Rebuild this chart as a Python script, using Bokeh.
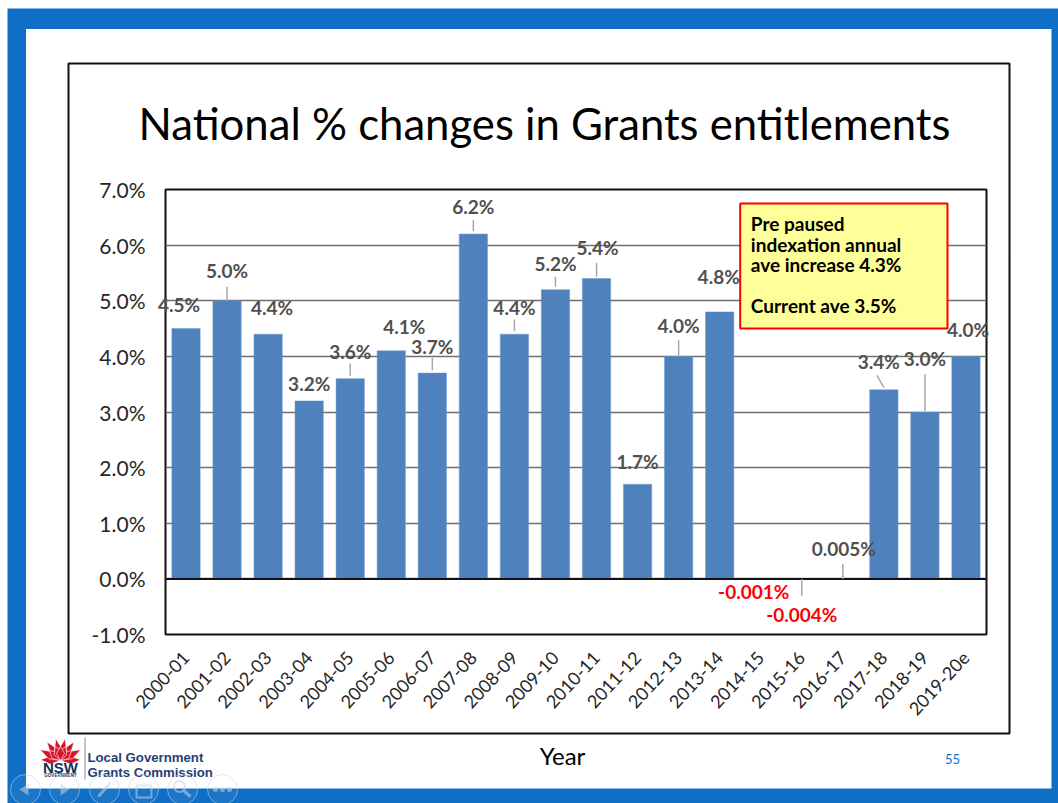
import numpy as np
from bokeh.core.properties import value
from bokeh.embed import file_html
from bokeh.models import ColumnDataSource, FactorRange, Range1d
from bokeh.plotting import figure
from bokeh.resources import INLINE

years = ["2000-01", "2001-02", "2002-03", "2003-04", "2004-05", "2005-06", "2006-07",
         "2007-08", "2008-09", "2009-10", "2010-11", "2011-12", "2012-13", "2013-14",
         "2014-15", "2015-16", "2016-17", "2017-18", "2018-19", "2019-20e"]
change_pct = [4.5, 5.0, 4.4, 3.2, 3.6, 4.1, 3.7, 6.2, 4.4, 5.2, 5.4, 1.7, 4.0, 4.8,
              -0.001, -0.004, 0.005, 3.4, 3.0, 4.0]
value_labels = ["4.5%", "5.0%", "4.4%", "3.2%", "3.6%", "4.1%", "3.7%", "6.2%", "4.4%", "5.2%",
                "5.4%", "1.7%", "4.0%", "4.8%", "-0.001%", "-0.004%", "0.005%", "3.4%", "3.0%", "4.0%"]
# shift of each value label from its bar top, in pixels
label_dx = [-7, 0, 4, 0, 0, 13, 0, 0, 0, 0, 1, 0, 0, -1, -7, 0, 1, -5, 0, 2]
label_dy = [-24, -30, -27, -17, -27, -24, -27, -28, -27, -26, -31, -23, -31, -35, 13, 35, -30, -28, -54, -27]

FONT = "Lato"
FRAME_L, FRAME_R, FRAME_T, FRAME_B = 165, 986, 189, 634
WIDTH, HEIGHT = 1058, 803
STACKED = {"position": "absolute", "top": "0px", "left": "0px"}
BLUE = "#0f6fc6"

# ---- Bottom layer: the slide around the chart, in page pixels ----
slide = figure(width=WIDTH, height=HEIGHT, output_backend="svg", toolbar_location=None,
               x_range=Range1d(0, WIDTH), y_range=Range1d(HEIGHT, 0),
               x_axis_type=None, y_axis_type=None, min_border=0,
               background_fill_color="white", border_fill_color="white",
               outline_line_color=None, styles=STACKED)
slide.grid.visible = False


def caption(fig, x, y, s, size, color="#000000", style="normal", align="center", font=FONT):
    fig.text(x=[x], y=[y], text=[s], text_font=value(font), text_font_size=f"{size}px",
             text_font_style=style, text_color=color, text_align=align, text_baseline="middle")


slide.quad(left=[7], right=[WIDTH], top=[8], bottom=[HEIGHT], fill_color=BLUE, line_color=None)
slide.quad(left=[25.5], right=[1051], top=[28.5], bottom=[788], fill_color="white", line_color=None)
slide.quad(left=[68], right=[1009], top=[63], bottom=[733], fill_color="white",
           line_color="#111111", line_width=2)
caption(slide, 544, 122, "National % changes in Grants entitlements", 43.7)
caption(slide, 562, 755, "Year", 24)
caption(slide, 952, 758, "55", 13, BLUE)

# Waratah emblem: a fan of pointed petals
petals = [(-88, 20), (88, 20), (-62, 23), (62, 23), (-36, 23), (36, 23), (-12, 22), (12, 22),
          (-48, 15), (48, 15), (-20, 15), (20, 15), (0, 14)]
for angle, length in petals:
    a = np.radians(angle)
    ux, uy = np.sin(a), -np.cos(a)
    vx, vy = -uy, ux
    slide.patch(x=[60, 60 + ux * length * 0.5 + vx * 4, 60 + ux * length, 60 + ux * length * 0.5 - vx * 4],
                y=[760, 760 + uy * length * 0.5 + vy * 4, 760 + uy * length, 760 + uy * length * 0.5 - vy * 4],
                fill_color="#d7152a", line_color="white", line_width=0.6)
caption(slide, 60, 767, "NSW", 15, "#13315c", "bold", font="Liberation Sans")
caption(slide, 60, 775, "GOVERNMENT", 4.5, "#13315c", "bold", font="Liberation Sans")
slide.quad(left=[84], right=[85], top=[737], bottom=[779], fill_color="#7a8ca8", line_color=None)
caption(slide, 87, 757, "Local Government", 13.2, "#1f3f77", "bold", "left", "Liberation Sans")
caption(slide, 87, 772, "Grants Commission", 13.2, "#1f3f77", "bold", "left", "Liberation Sans")

# Slide-show buttons and their icons
ICON = "#c9d3de"
slide.scatter(x=[25, 64, 104, 143, 182, 222], y=[789] * 6, size=30, marker="circle",
              fill_color="white", fill_alpha=0.05, line_color=ICON, line_alpha=0.55, line_width=1)
slide.patch(x=[19, 28, 28], y=[789, 783, 795], fill_color=ICON, fill_alpha=0.55, line_color=None)
slide.patch(x=[60, 60, 69], y=[783, 795, 789], fill_color=ICON, fill_alpha=0.55, line_color=None)
slide.segment(x0=[98], y0=[796], x1=[110], y1=[782], line_color=ICON, line_alpha=0.55, line_width=3)
slide.quad(left=[136], right=[151], top=[785], bottom=[797], fill_color=None, line_color=ICON,
           line_alpha=0.55, line_width=2)
slide.scatter(x=[179], y=[786], size=11, marker="circle", fill_color=None, line_color=ICON,
              line_alpha=0.55, line_width=2)
slide.segment(x0=[183], y0=[790], x1=[190], y1=[796], line_color=ICON, line_alpha=0.55, line_width=3)
slide.scatter(x=[215, 222, 229], y=[789] * 3, size=5, marker="circle", fill_color=ICON,
              fill_alpha=0.55, line_color=None)

# ---- Middle layer: the chart itself ----
p = figure(width=WIDTH, height=HEIGHT, output_backend="svg", toolbar_location=None,
           x_range=FactorRange(factors=years, range_padding=0),
           y_range=Range1d(-1, 7),
           min_border_left=FRAME_L, min_border_right=WIDTH - FRAME_R,
           min_border_top=FRAME_T, min_border_bottom=HEIGHT - FRAME_B,
           background_fill_color=None, border_fill_color=None, styles=STACKED)

p.xgrid.visible = False
p.ygrid.grid_line_color = "#6f6f6f"
p.ygrid.grid_line_width = 1.3
p.yaxis.ticker = [-1, 0, 1, 2, 3, 4, 5, 6, 7]
p.yaxis.major_label_overrides = {t: f"{t:.1f}%" for t in range(-1, 8)}
for ax in (p.xaxis[0], p.yaxis[0]):
    ax.axis_line_color = None
    ax.major_tick_line_color = None
    ax.minor_tick_line_color = None
    ax.major_label_text_font = FONT
    ax.major_label_text_color = "#262626"
p.yaxis.major_label_text_font_size = "21px"
p.yaxis.major_label_standoff = 14
p.xaxis.major_label_text_font_size = "18px"
p.xaxis.major_label_orientation = 0.82
p.xaxis.major_label_standoff = 14
p.outline_line_color = "#111111"
p.outline_line_width = 2

src = ColumnDataSource(dict(year=years, pct=change_pct, label=value_labels,
                            dx=label_dx, dy=label_dy, pos=[i + 0.5 for i in range(len(years))],
                            color=["#ff0000" if v < 0 else "#505050" for v in change_pct]))
p.vbar(x="year", top="pct", bottom=0, width=0.69, source=src, fill_color="#4f81bd",
       line_color="#6f9bd0", line_width=0.5)

# Zero line
p.segment(x0=[0], x1=[len(years)], y0=[0], y1=[0], line_color="#111111", line_width=2)

# Leader lines from value labels towards their bars: (year, start of line, end of line, lean)
leaders = [("2001-02", 5.0, 5.25, 0), ("2004-05", 3.65, 3.87, 0), ("2006-07", 3.75, 3.97, 0),
           ("2007-08", 6.25, 6.45, 0), ("2008-09", 4.45, 4.66, 0), ("2009-10", 5.25, 5.43, 0),
           ("2010-11", 5.43, 5.68, 0), ("2012-13", 4.02, 4.29, 0), ("2016-17", 0.0, 0.27, 0),
           ("2015-16", 0.0, -0.31, 0), ("2017-18", 3.44, 3.66, -0.17), ("2018-19", 3.02, 3.68, 0)]
centre = {y: i + 0.5 for i, y in enumerate(years)}
p.segment(x0=[centre[y] for y, _, _, _ in leaders],
          x1=[centre[y] + lean for y, _, _, lean in leaders],
          y0=[a for _, a, _, _ in leaders], y1=[b for _, _, b, _ in leaders],
          line_color="#a6a6a6", line_width=1.5)

# Callout, placed in category and percentage units
callout_lines = ["Pre paused", "indexation annual", "ave increase 4.3%", "", "Current ave 3.5%"]
p.quad(left=[14.0], right=[19.05], top=[6.75], bottom=[4.5], fill_color="#ffff99",
       line_color="#ff0000", line_width=2)
p.text(x=[14.26] * 5, y=[6.39, 6.02, 5.66, 5.29, 4.92], text=callout_lines, text_font=value(FONT),
       text_font_size="19px", text_font_style="bold", text_color="#000000",
       text_align="left", text_baseline="middle")

# ---- Top layer: value labels, free to spill past the plot frame ----
unit_x = (FRAME_R - FRAME_L) / len(years)
unit_y = (FRAME_B - FRAME_T) / 8
top = figure(width=WIDTH, height=HEIGHT, output_backend="svg", toolbar_location=None,
             x_range=Range1d(-FRAME_L / unit_x, len(years) + (WIDTH - FRAME_R) / unit_x),
             y_range=Range1d(-1 - (HEIGHT - FRAME_B) / unit_y, 7 + FRAME_T / unit_y),
             x_axis_type=None, y_axis_type=None, min_border=0,
             background_fill_color=None, border_fill_color=None,
             outline_line_color=None, styles=STACKED)
top.grid.visible = False
top.text(x="pos", y="pct", text="label", source=src, x_offset="dx", y_offset="dy",
         text_align="center", text_baseline="middle", text_font=value(FONT),
         text_font_size="19px", text_font_style="bold", text_color="color")

open("out.html", "w").write(file_html([slide, p, top], INLINE))
